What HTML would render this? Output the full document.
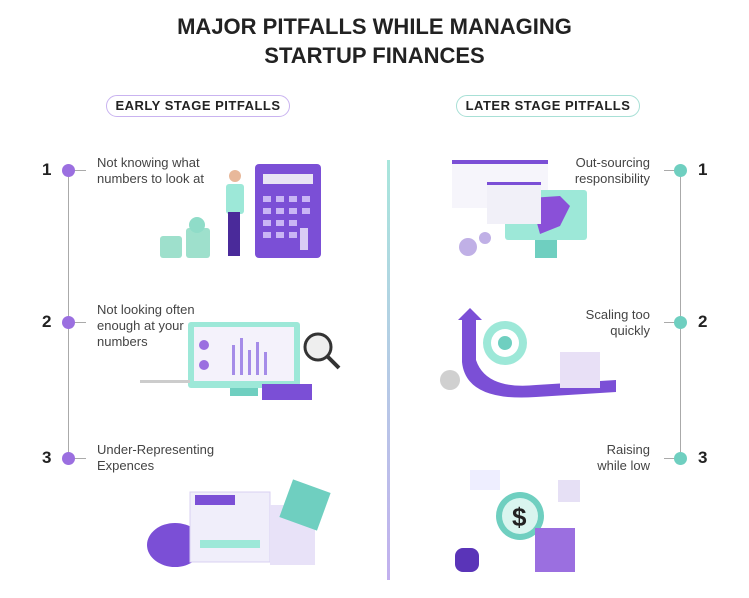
<!DOCTYPE html>
<html><head><style>
body{margin:0;width:749px;height:598px;background:#fff;font-family:"Liberation Sans",sans-serif;position:relative;overflow:hidden;color:#222}
.a{position:absolute}
.t{font-size:13px;color:#444;line-height:16px}
.n{font-size:17px;font-weight:bold;color:#222}
</style></head><body>
<div class="a" style="left:0;width:749px;top:12px;text-align:center;font-weight:bold;font-size:22px;line-height:29px;color:#222">MAJOR PITFALLS WHILE MANAGING<br>STARTUP FINANCES</div>
<div class="a" style="left:106px;top:95px;width:182px;height:20px;border:1px solid #c9b3f0;border-radius:11px;text-align:center;font-size:13px;font-weight:bold;line-height:20px;letter-spacing:.5px">EARLY STAGE PITFALLS</div>
<div class="a" style="left:456px;top:95px;width:182px;height:20px;border:1px solid #a8e0d6;border-radius:11px;text-align:center;font-size:13px;font-weight:bold;line-height:20px;letter-spacing:.5px">LATER STAGE PITFALLS</div>
<div class="a" style="left:387px;top:160px;width:3px;height:420px;background:linear-gradient(#a8e6dc,#c2b0ee)"></div>
<!-- left timeline -->
<div class="a" style="left:68px;top:170px;width:1px;height:288px;background:#aaa"></div>
<div class="a" style="left:69px;top:170px;width:17px;height:1px;background:#aaa"></div>
<div class="a" style="left:69px;top:322px;width:17px;height:1px;background:#aaa"></div>
<div class="a" style="left:69px;top:458px;width:17px;height:1px;background:#aaa"></div>
<div class="a" style="left:62px;top:164px;width:13px;height:13px;border-radius:50%;background:#9b6fe0"></div>
<div class="a" style="left:62px;top:316px;width:13px;height:13px;border-radius:50%;background:#9b6fe0"></div>
<div class="a" style="left:62px;top:452px;width:13px;height:13px;border-radius:50%;background:#9b6fe0"></div>
<div class="a n" style="left:42px;top:160px">1</div>
<div class="a n" style="left:42px;top:312px">2</div>
<div class="a n" style="left:42px;top:448px">3</div>
<div class="a t" style="left:97px;top:155px">Not knowing what<br>numbers to look at</div>
<div class="a t" style="left:97px;top:302px">Not looking often<br>enough at your<br>numbers</div>
<div class="a t" style="left:97px;top:442px">Under-Representing<br>Expences</div>
<!-- right timeline -->
<div class="a" style="left:680px;top:170px;width:1px;height:288px;background:#aaa"></div>
<div class="a" style="left:664px;top:170px;width:17px;height:1px;background:#aaa"></div>
<div class="a" style="left:664px;top:322px;width:17px;height:1px;background:#aaa"></div>
<div class="a" style="left:664px;top:458px;width:17px;height:1px;background:#aaa"></div>
<div class="a" style="left:674px;top:164px;width:13px;height:13px;border-radius:50%;background:#6fcfc0"></div>
<div class="a" style="left:674px;top:316px;width:13px;height:13px;border-radius:50%;background:#6fcfc0"></div>
<div class="a" style="left:674px;top:452px;width:13px;height:13px;border-radius:50%;background:#6fcfc0"></div>
<div class="a n" style="left:698px;top:160px">1</div>
<div class="a n" style="left:698px;top:312px">2</div>
<div class="a n" style="left:698px;top:448px">3</div>
<div class="a t" style="right:99px;top:155px;text-align:right">Out-sourcing<br>responsibility</div>
<div class="a t" style="right:99px;top:307px;text-align:right">Scaling too<br>quickly</div>
<div class="a t" style="right:99px;top:442px;text-align:right">Raising<br>while low</div>
<!-- illustrations -->
<svg class="a" style="left:0;top:0" width="749" height="598">
<!-- calc -->
<rect x="255" y="164" width="66" height="94" rx="4" fill="#7b4fd6"/>
<rect x="263" y="174" width="50" height="10" fill="#e8e4f4"/>
<rect x="300" y="228" width="8" height="22" fill="#d9ccf5"/>
<g fill="#c9b5f5"><rect x="263" y="196" width="8" height="6"/><rect x="276" y="196" width="8" height="6"/><rect x="289" y="196" width="8" height="6"/><rect x="302" y="196" width="8" height="6"/>
<rect x="263" y="208" width="8" height="6"/><rect x="276" y="208" width="8" height="6"/><rect x="289" y="208" width="8" height="6"/><rect x="302" y="208" width="8" height="6"/>
<rect x="263" y="220" width="8" height="6"/><rect x="276" y="220" width="8" height="6"/><rect x="289" y="220" width="8" height="6"/>
<rect x="263" y="232" width="8" height="6"/><rect x="276" y="232" width="8" height="6"/><rect x="289" y="232" width="8" height="6"/></g>
<rect x="226" y="184" width="18" height="30" rx="3" fill="#9de8d8"/>
<rect x="228" y="212" width="12" height="44" fill="#4a2a9a"/>
<circle cx="235" cy="176" r="6" fill="#e8b89a"/>
<g fill="#9ee0cc"><rect x="160" y="236" width="22" height="22" rx="3"/><rect x="186" y="228" width="24" height="30" rx="3"/></g>
<circle cx="197" cy="225" r="8" fill="#8fdcc8"/>
<!-- monitor -->
<rect x="188" y="322" width="112" height="66" rx="3" fill="#9de8d8"/>
<rect x="194" y="327" width="100" height="54" fill="#f4f2fb"/>
<g fill="#a58ce8"><rect x="232" y="345" width="3" height="30"/><rect x="240" y="338" width="3" height="37"/><rect x="248" y="350" width="3" height="25"/><rect x="256" y="342" width="3" height="33"/><rect x="264" y="352" width="3" height="23"/></g>
<circle cx="204" cy="345" r="5" fill="#9b6fe0"/><circle cx="204" cy="365" r="5" fill="#9b6fe0"/>
<rect x="230" y="388" width="28" height="8" fill="#6fcfc0"/>
<circle cx="318" cy="347" r="13" fill="#eee" stroke="#333" stroke-width="3"/>
<line x1="327" y1="356" x2="339" y2="368" stroke="#333" stroke-width="4"/>
<rect x="262" y="384" width="50" height="16" fill="#7b4fd6"/>
<rect x="140" y="380" width="50" height="3" fill="#ccc"/>
<!-- piggy -->
<ellipse cx="175" cy="545" rx="28" ry="22" fill="#7b4fd6"/>
<rect x="190" y="492" width="80" height="70" fill="#f0eefa" stroke="#d9d0f2"/>
<rect x="195" y="495" width="40" height="10" fill="#7b4fd6"/>
<rect x="270" y="505" width="45" height="60" fill="#e8e2f8"/>
<rect x="285" y="485" width="40" height="40" fill="#6fcfc0" transform="rotate(20 305 505)"/>
<rect x="200" y="540" width="60" height="8" fill="#9de8d8"/>
<!-- right 1 -->
<rect x="452" y="160" width="96" height="48" fill="#f6f5fb"/><rect x="452" y="160" width="96" height="4" fill="#7b4fd6"/>
<rect x="505" y="190" width="82" height="50" rx="3" fill="#9de8d8"/>
<path d="M530 198 l30 -2 l10 10 l-10 20 l-20 8 z" fill="#8a50d8"/>
<rect x="487" y="182" width="54" height="42" fill="#f1f0f8"/><rect x="487" y="182" width="54" height="3" fill="#7b4fd6"/>
<rect x="535" y="240" width="22" height="18" fill="#6fcfc0"/>
<circle cx="468" cy="247" r="9" fill="#c0b0e6"/><circle cx="485" cy="238" r="6" fill="#c0b0e6"/>
<!-- right 2 -->
<path d="M458 320 l12 -12 l12 12 h-6 v40 q10 30 60 25 l80 -5 v12 l-80 5 q-70 5 -74 -35 v-42 z" fill="#7b4fd6"/>
<circle cx="505" cy="343" r="22" fill="#9de8d8"/><circle cx="505" cy="343" r="14" fill="#fff"/><circle cx="505" cy="343" r="7" fill="#6fcfc0"/>
<rect x="560" y="352" width="40" height="36" fill="#e8e0f6"/>
<circle cx="450" cy="380" r="10" fill="#d0d0d0"/>
<!-- right 3 -->
<circle cx="520" cy="516" r="24" fill="#6fcfc0"/><circle cx="520" cy="516" r="18" fill="#d9f5ef"/>
<text x="512" y="526" font-size="26" font-weight="bold" fill="#222" font-family="Liberation Sans">$</text>
<rect x="535" y="528" width="40" height="44" fill="#9b6fe0"/>
<rect x="455" y="548" width="24" height="24" rx="8" fill="#5a34b8"/>
<rect x="558" y="480" width="22" height="22" fill="#e6e0f5"/><rect x="470" y="470" width="30" height="20" fill="#eef"/>
</svg>
</body></html>
